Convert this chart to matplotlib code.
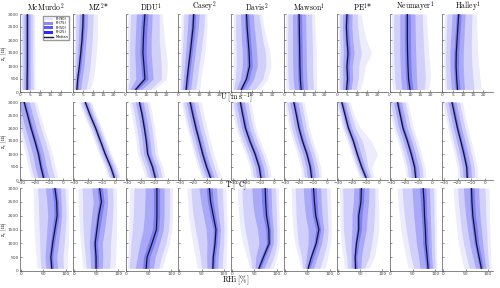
import numpy as np
import matplotlib.pyplot as plt
from matplotlib.patches import Patch
from matplotlib.lines import Line2D

plt.rcParams['mathtext.fontset'] = 'cm'

heights = [100, 500, 1000, 1500, 2000, 2500, 3000]
stations = ['McMurdo', 'MZ', 'DDU', 'Casey', 'Davis', 'Mawson', 'PE', 'Neumayer', 'Halley']
titles = [r'$\mathrm{McMurdo}^2$', r'$\mathrm{MZ}^{2}$*', r'$\mathrm{DDU}^1$', r'$\mathrm{Casey}^2$',
          r'$\mathrm{Davis}^2$', r'$\mathrm{Mawson}^1$', r'$\mathrm{PE}^{1}$*', r'$\mathrm{Neumayer}^1$',
          r'$\mathrm{Halley}^1$']
legend_labels = ['Pr(90)', 'Pr(75)', 'Pr(50)', 'Pr(25)', 'Median']

# columns: p5, p10, p25, p40, median, p60, p75, p90, p95 ; rows: heights
U_MCMURDO = [[0.3, 0.9, 1.9, 2.9, 3.5, 4.1, 5.0, 6.5, 7.5],
             [0.3, 0.9, 1.9, 2.9, 3.5, 4.1, 5.0, 6.4, 7.3],
             [0.3, 1.0, 2.0, 3.0, 3.6, 4.2, 5.0, 6.3, 7.2],
             [0.3, 1.0, 2.0, 3.0, 3.6, 4.2, 5.0, 6.3, 7.2],
             [0.3, 1.0, 2.0, 3.0, 3.6, 4.2, 5.0, 6.3, 7.2],
             [0.3, 1.0, 2.0, 3.0, 3.6, 4.2, 5.0, 6.3, 7.2],
             [0.3, 1.0, 2.0, 3.0, 3.6, 4.2, 5.0, 6.3, 7.2]]
U_MZ = [[0.2, 0.5, 1.0, 1.5, 2.0, 2.6, 3.8, 6.5, 8.5],
        [0.3, 0.6, 1.2, 1.8, 2.4, 3.0, 4.5, 7.5, 10.0],
        [0.4, 0.9, 1.8, 2.6, 3.2, 4.0, 5.5, 8.5, 11.0],
        [0.5, 1.2, 2.3, 3.2, 3.9, 4.6, 6.0, 9.0, 11.5],
        [0.6, 1.4, 2.7, 3.7, 4.5, 5.2, 6.5, 9.5, 12.0],
        [0.7, 1.5, 3.0, 4.1, 4.9, 5.6, 7.0, 9.8, 12.0],
        [0.8, 1.6, 3.2, 4.3, 5.1, 5.8, 7.2, 10.0, 12.0]]
U_DDU = [[0.5, 1.0, 2.2, 3.8, 5.0, 6.0, 8.0, 12.0, 14.0],
         [0.8, 2.0, 5.0, 8.0, 9.5, 11.0, 13.5, 17.5, 20.0],
         [0.8, 2.0, 4.8, 7.5, 9.0, 10.5, 13.0, 17.5, 20.5],
         [0.7, 1.8, 4.5, 7.0, 8.5, 10.0, 12.5, 17.0, 20.0],
         [0.8, 2.0, 4.7, 7.2, 8.7, 10.2, 12.5, 16.5, 19.0],
         [1.0, 2.2, 5.0, 7.5, 9.0, 10.5, 12.8, 16.5, 18.5],
         [1.2, 2.5, 5.3, 8.0, 9.5, 11.0, 13.0, 16.5, 18.0]]
U_CASEY = [[0.5, 1.0, 2.0, 3.0, 3.8, 4.6, 6.0, 8.5, 10.5],
           [0.6, 1.2, 2.4, 3.5, 4.3, 5.2, 6.6, 9.2, 11.0],
           [0.8, 1.5, 3.0, 4.2, 5.0, 5.9, 7.4, 10.0, 12.0],
           [1.0, 1.8, 3.5, 4.9, 5.8, 6.7, 8.2, 11.0, 13.0],
           [1.2, 2.2, 4.0, 5.5, 6.5, 7.5, 9.0, 11.8, 13.5],
           [1.4, 2.5, 4.5, 6.2, 7.2, 8.2, 9.8, 12.5, 14.0],
           [1.5, 2.7, 4.8, 6.5, 7.5, 8.5, 10.2, 12.8, 14.0]]
U_DAVIS = [[0.5, 1.2, 2.5, 4.0, 5.0, 6.0, 8.0, 11.5, 14.0],
           [0.8, 2.0, 4.5, 6.5, 7.5, 8.8, 11.0, 15.5, 18.0],
           [1.0, 2.5, 5.5, 7.8, 9.0, 10.3, 12.8, 17.0, 19.5],
           [1.0, 2.5, 5.5, 7.6, 8.8, 10.0, 12.5, 16.8, 19.0],
           [1.0, 2.3, 5.0, 7.1, 8.3, 9.5, 12.0, 15.5, 17.5],
           [1.0, 2.2, 4.8, 6.7, 7.8, 9.0, 11.3, 14.5, 16.0],
           [1.0, 2.2, 4.6, 6.4, 7.5, 8.6, 10.8, 13.5, 15.0]]
U_MAWSON = [[1.0, 2.5, 5.0, 7.2, 8.4, 9.6, 11.5, 14.5, 16.0],
            [0.8, 2.0, 4.5, 6.8, 8.0, 9.2, 11.2, 14.2, 16.0],
            [0.7, 1.8, 4.3, 6.6, 7.8, 9.0, 11.0, 14.0, 15.8],
            [0.7, 1.8, 4.2, 6.5, 7.7, 8.9, 10.9, 14.0, 15.8],
            [0.7, 1.8, 4.2, 6.4, 7.6, 8.8, 10.8, 13.8, 15.5],
            [0.8, 1.9, 4.2, 6.3, 7.5, 8.7, 10.7, 13.6, 15.2],
            [0.8, 1.9, 4.2, 6.3, 7.4, 8.6, 10.6, 13.5, 15.0]]
U_PE = [[0.8, 1.5, 2.8, 4.0, 4.8, 5.8, 7.0, 9.5, 11.5],
        [0.8, 1.5, 3.0, 4.3, 5.3, 6.3, 7.8, 10.5, 13.0],
        [0.8, 1.5, 2.9, 4.1, 5.0, 6.0, 7.6, 10.8, 14.0],
        [0.9, 1.6, 3.2, 4.6, 5.5, 6.6, 8.5, 12.0, 17.0],
        [0.8, 1.5, 3.0, 4.2, 5.0, 6.1, 7.8, 11.0, 14.5],
        [0.7, 1.4, 2.8, 3.9, 4.7, 5.8, 7.4, 10.2, 13.0],
        [0.8, 1.5, 2.9, 4.1, 5.0, 6.0, 7.5, 10.0, 12.0]]
U_NEUMAYER = [[1.5, 3.0, 6.0, 8.5, 10.0, 11.5, 13.5, 17.0, 19.0],
              [1.0, 2.5, 5.5, 7.9, 9.3, 10.8, 13.2, 17.5, 20.0],
              [0.8, 2.2, 5.2, 7.6, 9.0, 10.5, 13.0, 17.2, 19.8],
              [0.8, 2.0, 5.0, 7.4, 8.8, 10.3, 12.8, 16.8, 19.2],
              [0.8, 2.0, 5.0, 7.3, 8.7, 10.2, 12.6, 16.5, 18.8],
              [0.8, 2.0, 5.0, 7.3, 8.7, 10.2, 12.5, 16.2, 18.3],
              [0.8, 2.0, 5.0, 7.3, 8.7, 10.1, 12.4, 16.0, 18.0]]
U_HALLEY = [[1.0, 2.2, 4.5, 6.3, 7.4, 8.6, 10.8, 15.5, 19.0],
            [0.8, 1.8, 4.0, 5.8, 7.0, 8.2, 10.5, 15.0, 18.5],
            [0.6, 1.6, 3.7, 5.5, 6.7, 7.9, 10.2, 14.5, 17.8],
            [0.6, 1.6, 3.7, 5.6, 6.8, 8.0, 10.2, 14.2, 17.3],
            [0.7, 1.8, 4.0, 6.0, 7.2, 8.4, 10.5, 14.2, 17.0],
            [0.8, 2.0, 4.4, 6.4, 7.6, 8.8, 10.8, 14.3, 16.8],
            [0.9, 2.2, 4.8, 6.8, 8.0, 9.2, 11.2, 14.5, 16.8]]

T_MCMURDO = [[-23, -21, -18, -15.2, -14, -12.8, -10, -6, -3.5],
             [-25, -23, -20, -17, -15.8, -14.6, -12, -8, -5.5],
             [-27, -25, -21.8, -18.8, -17.6, -16.4, -13.8, -10, -7.5],
             [-29.5, -27.5, -24.5, -21.4, -20.2, -19, -16.5, -12.8, -10.5],
             [-32, -30, -27.2, -24.2, -23, -21.8, -19.3, -15.8, -13.5],
             [-34, -32.5, -29.8, -26.7, -25.5, -24.3, -21.8, -18.5, -16.5],
             [-37, -35, -32.3, -29.2, -28, -26.8, -24.4, -21, -19]]
T_MZ = [[-5.5, -4.3, -2.8, -1.6, -1.0, -0.4, 0.8, 2.3, 3.5],
        [-8.0, -6.8, -5.3, -4.1, -3.5, -2.9, -1.7, -0.2, 1.0],
        [-12.0, -10.8, -9.3, -8.1, -7.5, -6.9, -5.7, -4.2, -3.0],
        [-15.5, -14.3, -12.8, -11.6, -11.0, -10.4, -9.2, -7.7, -6.5],
        [-19.0, -17.8, -16.3, -15.1, -14.5, -13.9, -12.7, -11.2, -10.0],
        [-23.0, -21.8, -20.3, -19.1, -18.5, -17.9, -16.7, -15.2, -14.0],
        [-26.5, -25.3, -23.8, -22.6, -22.0, -21.4, -20.2, -18.7, -17.5]]
T_DDU = [[-17, -15, -12.5, -10.5, -9.6, -8.7, -7, -4.5, -2.5],
         [-19, -17, -14.4, -12.4, -11.5, -10.6, -8.8, -6.2, -4.2],
         [-22.5, -20.5, -17.9, -15.9, -15, -14.1, -12.3, -9.7, -7.7],
         [-23.5, -21.5, -18.9, -16.9, -16, -15.1, -13.3, -10.7, -8.7],
         [-25, -23, -20.3, -18.3, -17.4, -16.5, -14.7, -12, -10],
         [-26.5, -24.5, -21.9, -19.9, -19, -18.1, -16.3, -13.6, -11.6],
         [-28.5, -26.5, -23.9, -21.9, -21, -20.1, -18.3, -15.6, -13.6]]
T_CASEY = [[-14.3, -12.8, -10.6, -8.8, -7.8, -6.8, -5.0, -2.3, 0.2],
           [-17.0, -15.5, -13.3, -11.5, -10.5, -9.5, -7.7, -5.0, -2.5],
           [-19.9, -18.4, -16.2, -14.4, -13.4, -12.4, -10.6, -7.9, -5.4],
           [-22.3, -20.8, -18.6, -16.8, -15.8, -14.8, -13.0, -10.3, -7.8],
           [-24.8, -23.3, -21.1, -19.3, -18.3, -17.3, -15.5, -12.8, -10.3],
           [-27.0, -25.5, -23.3, -21.5, -20.5, -19.5, -17.7, -15.0, -12.5],
           [-29.0, -27.5, -25.3, -23.5, -22.5, -21.5, -19.7, -17.0, -14.5]]
T_DAVIS = [[-16.5, -14.8, -12.5, -10.5, -9.5, -8.5, -6.5, -4.0, -2.0],
           [-17.7, -16.0, -13.7, -11.7, -10.7, -9.7, -7.7, -5.2, -3.2],
           [-20.7, -19.0, -16.7, -14.7, -13.7, -12.7, -10.7, -8.2, -6.2],
           [-24.5, -22.8, -20.5, -18.5, -17.5, -16.5, -14.5, -12.0, -10.0],
           [-27.7, -26.0, -23.7, -21.7, -20.7, -19.7, -17.7, -15.2, -13.2],
           [-29.6, -27.9, -25.6, -23.6, -22.6, -21.6, -19.6, -17.1, -15.1],
           [-31.4, -29.7, -27.4, -25.4, -24.4, -23.4, -21.4, -18.9, -16.9]]
T_MAWSON = [[-18.0, -16.3, -14.0, -12.0, -11.0, -10.0, -8.0, -5.5, -3.5],
            [-19.0, -17.3, -15.0, -13.0, -12.0, -11.0, -9.0, -6.5, -4.5],
            [-21.4, -19.7, -17.4, -15.4, -14.4, -13.4, -11.4, -8.9, -6.9],
            [-24.6, -22.9, -20.6, -18.6, -17.6, -16.6, -14.6, -12.1, -10.1],
            [-27.2, -25.5, -23.2, -21.2, -20.2, -19.2, -17.2, -14.7, -12.7],
            [-29.0, -27.3, -25.0, -23.0, -22.0, -21.0, -19.0, -16.5, -14.5],
            [-30.9, -29.2, -26.9, -24.9, -23.9, -22.9, -20.9, -18.4, -16.4]]
T_PE = [[-14.4, -13.2, -11.7, -10.6, -9.9, -9.1, -7.7, -5.9, -4.4],
        [-17.5, -16.3, -14.8, -13.7, -13.0, -12.2, -10.6, -8.5, -5.5],
        [-20.7, -19.5, -18.0, -16.9, -16.2, -15.4, -13.5, -10.0, -1.5],
        [-23.5, -22.3, -20.8, -19.7, -19.0, -18.2, -16.2, -12.5, -6.0],
        [-27.1, -25.9, -24.4, -23.3, -22.6, -21.8, -20.2, -17.5, -14.0],
        [-29.5, -28.3, -26.8, -25.7, -25.0, -24.2, -22.6, -20.5, -18.5],
        [-31.9, -30.7, -29.2, -28.1, -27.4, -26.6, -25.0, -23.0, -21.5]]
T_NEUMAYER = [[-19.1, -17.4, -15.1, -13.1, -12.1, -11.1, -9.1, -6.6, -4.6],
              [-19.9, -18.2, -15.9, -13.9, -12.9, -11.9, -9.9, -7.4, -5.4],
              [-22.3, -20.6, -18.3, -16.3, -15.3, -14.3, -12.3, -9.8, -7.8],
              [-25.1, -23.4, -21.1, -19.1, -18.1, -17.1, -15.1, -12.6, -10.6],
              [-28.3, -26.6, -24.3, -22.3, -21.3, -20.3, -18.3, -15.8, -13.8],
              [-30.3, -28.6, -26.3, -24.3, -23.3, -22.3, -20.3, -17.8, -15.8],
              [-32.3, -30.6, -28.3, -26.3, -25.3, -24.3, -22.3, -19.8, -17.8]]
T_HALLEY = [[-20.0, -18.3, -16.0, -14.0, -13.0, -12.0, -10.0, -7.5, -5.5],
            [-20.4, -18.7, -16.4, -14.4, -13.4, -12.4, -10.4, -7.9, -5.9],
            [-22.4, -20.7, -18.4, -16.4, -15.4, -14.4, -12.4, -9.9, -7.9],
            [-24.7, -23.0, -20.7, -18.7, -17.7, -16.7, -14.7, -12.2, -10.2],
            [-27.1, -25.4, -23.1, -21.1, -20.1, -19.1, -17.1, -14.6, -12.6],
            [-29.1, -27.4, -25.1, -23.1, -22.1, -21.1, -19.1, -16.6, -14.6],
            [-31.1, -29.4, -27.1, -25.1, -24.1, -23.1, -21.1, -18.6, -16.6]]

RH_MCMURDO = [[36, 45, 56, 65, 69, 73, 82, 95, 104],
              [34, 43, 54, 63, 67, 71, 80, 94, 104],
              [32, 42, 56, 66, 71, 75, 84, 97, 106],
              [30, 41, 58, 70, 76, 80, 88, 99, 107],
              [29, 40, 60, 74, 81, 85, 91, 101, 107],
              [28, 39, 58, 73, 80, 84, 90, 100, 106],
              [27, 37, 55, 69, 76, 80, 88, 98, 105]]
RH_MZ = [[20, 28, 38, 46, 50, 55, 64, 80, 92],
         [18, 26, 37, 45, 50, 55, 65, 82, 94],
         [15, 23, 35, 43, 48, 53, 64, 82, 95],
         [13, 21, 37, 47, 52, 58, 69, 85, 96],
         [11, 20, 40, 51, 56, 63, 73, 87, 96],
         [10, 20, 44, 56, 62, 68, 76, 88, 96],
         [10, 19, 40, 52, 58, 64, 74, 87, 95]]
RH_DDU = [[2, 6, 20, 36, 44, 50, 60, 72, 80],
          [3, 8, 24, 38, 46, 52, 64, 78, 87],
          [4, 10, 30, 48, 57, 63, 74, 88, 96],
          [5, 13, 37, 58, 67, 72, 82, 94, 101],
          [6, 15, 40, 60, 68, 74, 84, 96, 103],
          [6, 16, 41, 60, 68, 74, 84, 96, 103],
          [7, 17, 42, 60, 68, 74, 84, 96, 103]]
RH_CASEY = [[40, 50, 62, 71, 75, 79, 86, 96, 104],
            [36, 47, 61, 72, 76, 80, 87, 97, 105],
            [30, 42, 62, 75, 80, 84, 90, 99, 106],
            [25, 36, 60, 76, 82, 86, 92, 100, 107],
            [21, 31, 54, 69, 76, 81, 88, 99, 106],
            [19, 28, 48, 63, 70, 76, 85, 97, 105],
            [17, 26, 44, 60, 67, 73, 83, 96, 104]]
RH_DAVIS = [[38, 44, 51, 57, 60, 64, 71, 83, 92],
            [33, 41, 53, 65, 70, 74, 82, 93, 100],
            [24, 35, 60, 77, 83, 86, 92, 100, 106],
            [18, 29, 57, 75, 82, 86, 92, 100, 106],
            [15, 25, 50, 69, 77, 82, 89, 99, 105],
            [13, 23, 46, 66, 75, 80, 88, 98, 104],
            [12, 22, 44, 65, 74, 79, 87, 97, 104]]
RH_MAWSON = [[36, 40, 45, 50, 52, 56, 64, 78, 90],
             [30, 37, 48, 56, 59, 64, 72, 86, 96],
             [22, 30, 52, 65, 70, 74, 82, 94, 102],
             [18, 27, 52, 69, 76, 80, 87, 97, 104],
             [16, 25, 46, 62, 69, 74, 83, 95, 103],
             [15, 24, 43, 59, 66, 72, 81, 94, 102],
             [14, 23, 41, 57, 64, 70, 80, 93, 101]]
RH_PE = [[15, 22, 30, 36, 40, 44, 52, 60, 70],
         [12, 20, 30, 36, 39, 43, 53, 70, 82],
         [8, 16, 30, 38, 42, 47, 58, 76, 88],
         [6, 13, 32, 42, 47, 53, 64, 80, 92],
         [5, 12, 32, 42, 47, 54, 66, 82, 92],
         [5, 12, 35, 46, 52, 58, 69, 83, 91],
         [4, 11, 36, 47, 53, 59, 70, 83, 90]]
RH_NEUMAYER = [[40, 52, 66, 79, 84, 88, 94, 100, 104],
               [34, 46, 63, 76, 82, 86, 92, 99, 103],
               [28, 40, 58, 72, 79, 84, 91, 98, 103],
               [23, 35, 55, 71, 78, 83, 90, 98, 103],
               [20, 31, 52, 69, 76, 81, 89, 97, 102],
               [17, 28, 50, 67, 75, 80, 88, 97, 102],
               [15, 26, 48, 65, 73, 79, 87, 96, 102]]
RH_HALLEY = [[46, 58, 72, 81, 85, 89, 95, 102, 107],
             [40, 52, 66, 76, 80, 85, 92, 100, 106],
             [34, 45, 59, 69, 74, 79, 88, 98, 105],
             [30, 40, 54, 65, 70, 76, 85, 97, 104],
             [27, 37, 50, 61, 66, 72, 82, 95, 103],
             [24, 34, 47, 59, 64, 70, 80, 94, 103],
             [22, 32, 45, 58, 63, 69, 79, 93, 102]]

rows = [
    [U_MCMURDO, U_MZ, U_DDU, U_CASEY, U_DAVIS, U_MAWSON, U_PE, U_NEUMAYER, U_HALLEY],
    [T_MCMURDO, T_MZ, T_DDU, T_CASEY, T_DAVIS, T_MAWSON, T_PE, T_NEUMAYER, T_HALLEY],
    [RH_MCMURDO, RH_MZ, RH_DDU, RH_CASEY, RH_DAVIS, RH_MAWSON, RH_PE, RH_NEUMAYER, RH_HALLEY],
]
xlims = [(0, 25), (-31, 6), (-2, 112)]
xticks = [[0, 5, 10, 15, 20], [-30, -20, -10, 0], [0, 50, 100]]
row_box = [(14, 92), (102, 180), (188, 271)]  # top/bottom in px
xlabels = [r'$\mathrm{U\ [m\ s^{-1}]}$', r'$\mathrm{T\ [^{\circ}C]}$', r'$\mathrm{RHi\ [\%]}$']
xlabel_y = [98, 185, 280]

band_colors = ['#ececfd', '#d0d0fb', '#a9a9f7', '#7e7ef2']
legend_colors = ['#e4e4ff', '#8a8aff', '#5a5aff', '#2a2aff']
median_color = '#15152e'

W, H = 500, 288
fig = plt.figure(figsize=(5, 2.88), dpi=100)
z = np.array(heights)

for r in range(3):
    top, bot = row_box[r]
    for c in range(9):
        left = 20 + 52.8 * c
        ax = fig.add_axes([left / W, 1 - bot / H, 51 / W, (bot - top) / H])
        p = np.array(rows[r][c])
        for k in range(4):
            ax.fill_betweenx(z, p[:, k], p[:, 8 - k], color=band_colors[k], lw=0)
        ax.plot(p[:, 4], z, color=median_color, lw=0.9)
        ax.set_xlim(*xlims[r])
        ax.set_ylim(0, 3000)
        ax.set_xticks(xticks[r])
        ax.set_yticks(range(0, 3001, 500))
        ax.tick_params(labelsize=3.2, length=1.5, width=0.4, direction='in', pad=1,
                       colors='#444444')
        for s in ['top', 'right']:
            ax.spines[s].set_visible(False)
        for s in ['left', 'bottom']:
            ax.spines[s].set_linewidth(0.5)
            ax.spines[s].set_color('#555555')
        if c == 0:
            ax.set_ylabel(r'$\mathrm{z_s\ [m]}$', fontsize=4.2)
            ax.yaxis.set_label_coords(-0.22, 0.5)
        else:
            ax.set_yticklabels([])
        if r == 0:
            ax.set_title(titles[c], fontsize=5.5, pad=0.8)
        if r == 0 and c == 0:
            handles = [Patch(facecolor=col, edgecolor='none') for col in legend_colors]
            handles.append(Line2D([], [], color=median_color, lw=1.0))
            ax.legend(handles, legend_labels, loc='upper right', fontsize=2.5,
                      frameon=True, framealpha=1, edgecolor='#999999',
                      handlelength=2.5, handleheight=0.9, borderpad=0.3,
                      labelspacing=0.15, fancybox=False)

for r in range(3):
    fig.text(236 / W, 1 - xlabel_y[r] / H, xlabels[r], fontsize=5.5, ha='center', va='center')

fig.savefig('out.png', dpi=100)
